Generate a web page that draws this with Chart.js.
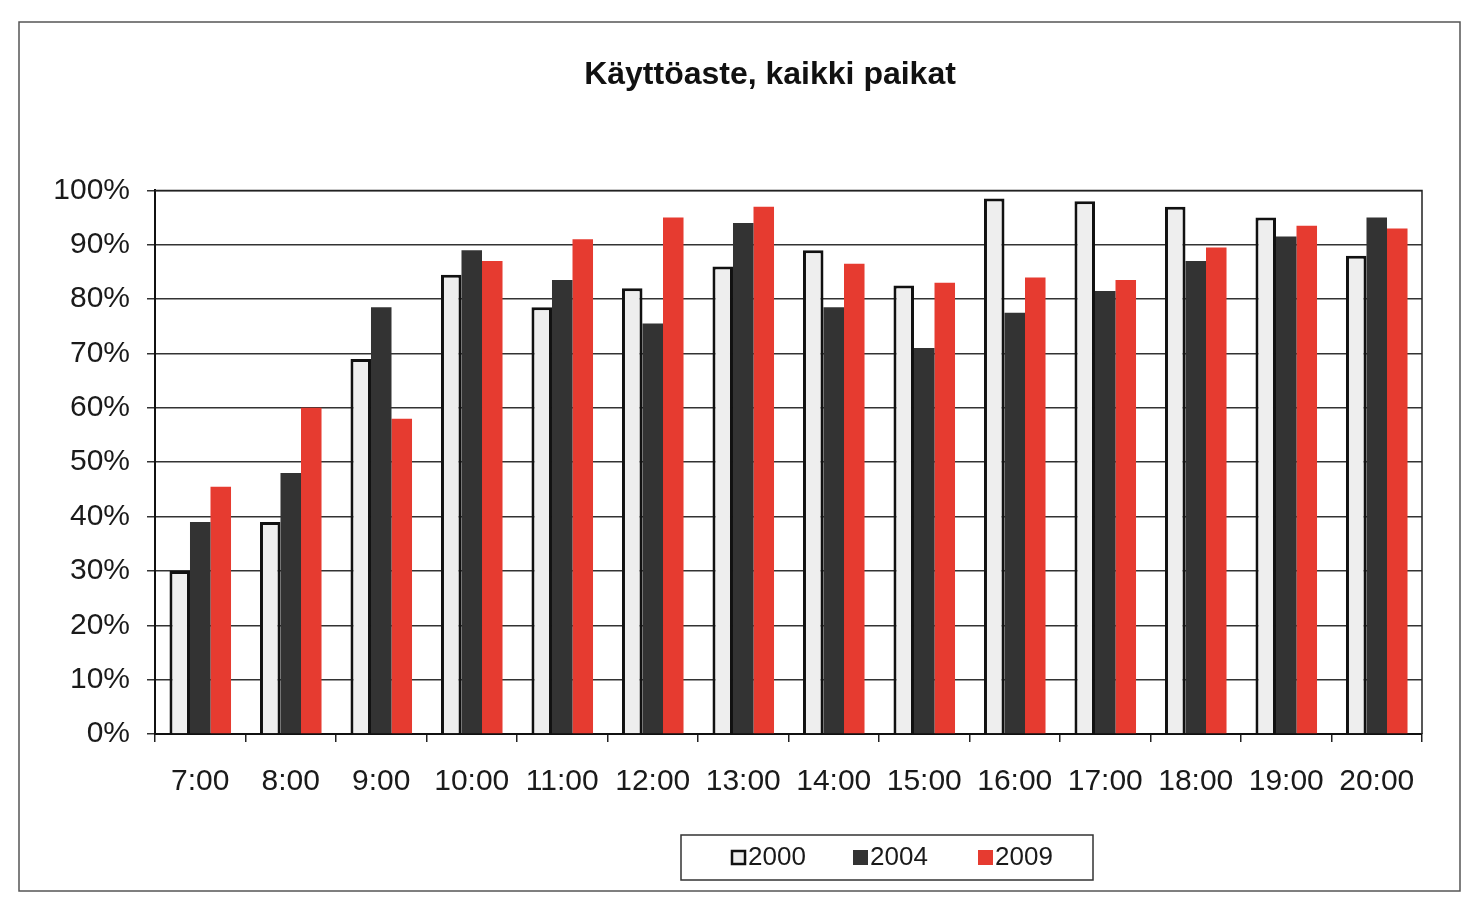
<!DOCTYPE html>
<html>
<head>
<meta charset="utf-8">
<script src="https://cdn.jsdelivr.net/npm/chart.js@4.4.1/dist/chart.umd.min.js"></script>
<style>
  html, body { margin: 0; padding: 0; background: #fff; }
  canvas { display: block; }
</style>
</head>
<body>
<canvas id="c" width="1471" height="903"></canvas>
<script>
const categories = ['7:00','8:00','9:00','10:00','11:00','12:00','13:00','14:00','15:00','16:00','17:00','18:00','19:00','20:00'];
const seriesNames = ['2000','2004','2009'];
const values2000 = [30, 39, 69, 84.5, 78.5, 82, 86, 89, 82.5, 98.5, 98, 97, 95, 88];
const values2004 = [39, 48, 78.5, 89, 83.5, 75.5, 94, 78.5, 71, 77.5, 81.5, 87, 91.5, 95];
const values2009 = [45.5, 60, 58, 87, 91, 95, 97, 86.5, 83, 84, 83.5, 89.5, 93.5, 93];
const yTicks = [0,10,20,30,40,50,60,70,80,90,100];
const titleText = 'Käyttöaste, kaikki paikat';

const FONT = '"Liberation Sans", Arial, "DejaVu Sans", sans-serif';
const CHART_BOTTOM = 734;
const TITLE_SHIFT = 59;

const framePlugin = {
  id: 'frame',
  afterLayout(chart) {
    const t = chart.titleBlock;
    if (t) { t.left += TITLE_SHIFT; t.right += TITLE_SHIFT; }
  },
  beforeDraw(chart) {
    const ctx = chart.ctx;
    ctx.save();
    ctx.fillStyle = '#ffffff';
    ctx.fillRect(0, 0, chart.width, chart.height);
    ctx.strokeStyle = '#555';
    ctx.lineWidth = 1.5;
    ctx.strokeRect(19, 22, 1441, 869);
    ctx.restore();
  },
  afterDatasetsDraw(chart) {
    const a = chart.chartArea;
    const ctx = chart.ctx;
    ctx.save();
    ctx.strokeStyle = '#222';
    ctx.lineWidth = 1.5;
    ctx.beginPath();
    ctx.moveTo(a.left, a.top);
    ctx.lineTo(a.right, a.top);
    ctx.lineTo(a.right, a.bottom);
    ctx.stroke();
    ctx.restore();
  },
  afterDraw(chart) {
    const ctx = chart.ctx;
    ctx.save();
    ctx.fillStyle = '#fff';
    ctx.strokeStyle = '#333';
    ctx.lineWidth = 1.5;
    ctx.fillRect(681, 835, 412, 45);
    ctx.strokeRect(681, 835, 412, 45);
    const xs = [731, 853, 978];
    chart.data.datasets.forEach((ds, i) => {
      const x = xs[i];
      const y = 858;
      ctx.fillStyle = ds.backgroundColor;
      ctx.fillRect(x, y - 8, 15, 15);
      if (ds.borderWidth) {
        ctx.strokeStyle = ds.borderColor;
        ctx.lineWidth = 2.5;
        ctx.strokeRect(x + 1, y - 7, 13, 13);
      }
      ctx.fillStyle = '#1a1a1a';
      ctx.font = '26px ' + FONT;
      ctx.textBaseline = 'middle';
      ctx.textAlign = 'left';
      ctx.fillText(ds.label, x + 17, y);
    });
    ctx.restore();
  }
};

new Chart(document.getElementById('c'), {
  type: 'bar',
  data: {
    labels: categories,
    datasets: [
      { label: seriesNames[0], data: values2000, backgroundColor: '#eeeeee', borderColor: '#111', borderWidth: 3, borderSkipped: 'bottom' },
      { label: seriesNames[1], data: values2004, backgroundColor: '#333333', borderWidth: 0 },
      { label: seriesNames[2], data: values2009, backgroundColor: '#e63b30', borderWidth: 0 }
    ]
  },
  plugins: [framePlugin],
  options: {
    responsive: false,
    animation: false,
    devicePixelRatio: 1,
    layout: { padding: { left: 0, right: 49, top: 0, bottom: 0 } },
    datasets: { bar: { categoryPercentage: 0.68, barPercentage: 1.0 } },
    plugins: {
      legend: { display: false },
      tooltip: { enabled: false },
      title: {
        display: true,
        text: titleText,
        color: '#111',
        font: { family: FONT, size: 32, weight: 'bold' },
        padding: { top: 56, bottom: 96 }
      }
    },
    scales: {
      x: {
        afterFit(scale) { scale.height = 903 - CHART_BOTTOM; },
        grid: { offset: true, drawOnChartArea: false, drawTicks: true, tickLength: 8, color: '#222', lineWidth: 1.5 },
        border: { display: true, color: '#111', width: 2 },
        ticks: { color: '#1a1a1a', font: { family: FONT, size: 30 }, padding: 22, maxRotation: 0 }
      },
      y: {
        min: 0, max: 100,
        afterFit(scale) { scale.width = 155; },
        afterBuildTicks(scale) { scale.ticks = yTicks.map(v => ({ value: v })); },
        grid: { color: '#333', lineWidth: 1.5, drawTicks: true, tickLength: 8 },
        border: { display: true, color: '#111', width: 2 },
        ticks: { color: '#1a1a1a', font: { family: FONT, size: 30 }, padding: 17, callback: v => v + '%' }
      }
    }
  }
});
</script>
</body>
</html>
